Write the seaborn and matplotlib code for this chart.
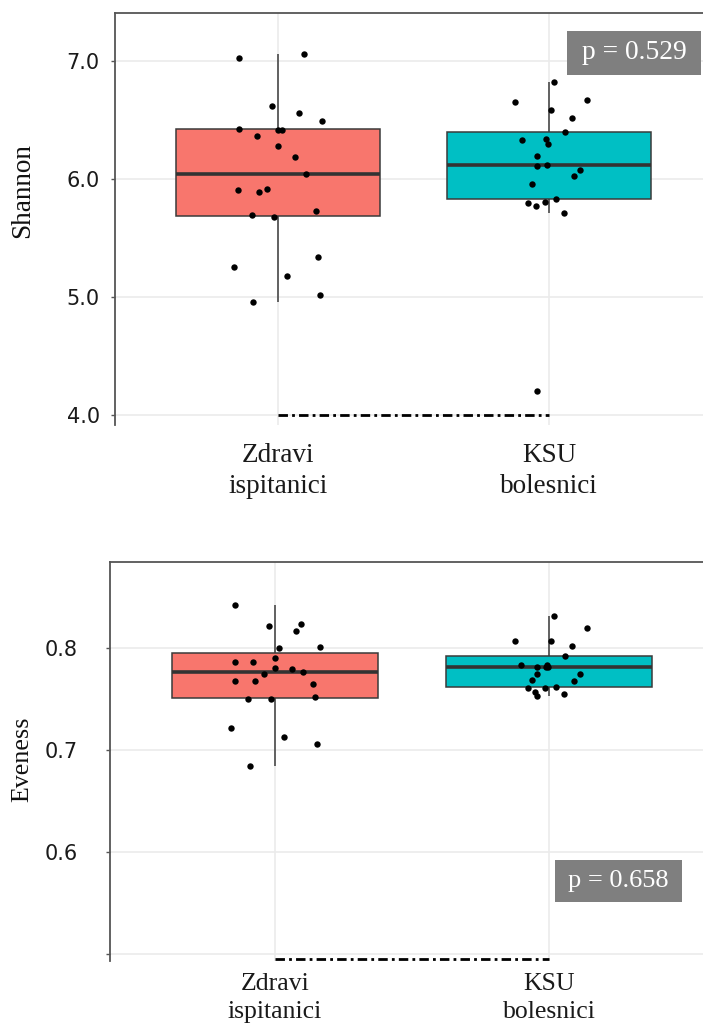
import numpy as np
import pandas as pd
import matplotlib
matplotlib.use("Agg")
import matplotlib.pyplot as plt
import seaborn as sns
from matplotlib.patches import Rectangle

# ---------------- data ----------------
groups = ["Zdravi\nispitanici", "KSU\nbolesnici"]
palette = ["#F8766D", "#00BFC4"]

shannon_zdravi = [7.023, 7.057, 6.619, 6.562, 6.492, 6.415, 6.418, 6.425, 6.364,
                  6.277, 6.184, 6.040, 5.915, 5.907, 5.892, 5.731, 5.695, 5.681,
                  5.339, 5.252, 5.178, 5.014, 4.960]
shannon_ksu = [6.819, 6.669, 6.650, 6.588, 6.514, 6.396, 6.339, 6.333, 6.299,
               6.192, 6.116, 6.110, 6.079, 6.028, 5.958, 5.831, 5.797, 5.803,
               5.769, 5.712, 4.201]
evenness_zdravi = [0.8429, 0.8236, 0.8222, 0.8167, 0.8013, 0.8003, 0.7905, 0.7868,
                   0.7865, 0.7809, 0.7796, 0.7767, 0.7744, 0.7681, 0.7681, 0.7652,
                   0.7499, 0.7499, 0.7518, 0.7220, 0.7125, 0.7062, 0.6845]
evenness_ksu = [0.8321, 0.8197, 0.8075, 0.8075, 0.8026, 0.7927, 0.7819, 0.7833,
                0.7816, 0.7813, 0.7833, 0.7750, 0.7747, 0.7678, 0.7685, 0.7622,
                0.7613, 0.7608, 0.7567, 0.7554, 0.7531]

shannon_ticks = [4.0, 5.0, 6.0, 7.0]
shannon_ticklabels = ["4.0", "5.0", "6.0", "7.0"]
evenness_ticks = [0.5, 0.6, 0.7, 0.8]
evenness_ticklabels = ["", "0.6", "0.7", "0.8"]

shannon_label = "Shannon"
evenness_label = "Eveness"
p_shannon = "p = 0.529"
p_evenness = "p = 0.658"
shannon_base = 4.0
evenness_base = 0.495

# ---------------- style ----------------
sns.set_theme(style="white")
plt.rcParams["font.family"] = ["DejaVu Sans"]
SERIF = "Liberation Serif"
EDGE = "#3a3a3a"
GRID = "#EBEBEB"

fig = plt.figure(figsize=(7.03, 10.29), dpi=100)
W, H = 703, 1029


def add_axes_px(left, top, right, bottom):
    return fig.add_axes([left / W, 1 - bottom / H, (right - left) / W, (bottom - top) / H])


def panel(ax, a, b, ticks, ticklabels, ylabel, base, ptext, xlim, ylim,
          ylabel_xy, ypad, xfont, xpad, ylabel_size, pbox, pfont):
    df = pd.DataFrame({
        "group": [groups[0]] * len(a) + [groups[1]] * len(b),
        "value": list(a) + list(b),
    })
    sns.boxplot(data=df, x="group", y="value", hue="group", order=groups,
                hue_order=groups, palette=palette, saturation=1, width=0.75,
                linecolor=EDGE, linewidth=1.1, showcaps=False, showfliers=False,
                medianprops={"linewidth": 2.6, "color": "#333333"},
                legend=False, ax=ax)
    np.random.seed(7)
    sns.stripplot(data=df, x="group", y="value", order=groups, color="black",
                  size=4.6, jitter=0.17, ax=ax, zorder=4)

    ax.set_xlim(*xlim)
    ax.set_ylim(*ylim)
    ax.set_yticks(ticks)
    ax.set_yticklabels(ticklabels)
    ax.set_xticks(range(len(groups)))
    ax.set_xticklabels(groups, fontfamily=SERIF, fontsize=xfont, linespacing=1.3)
    ax.set_xlabel("")
    ax.set_ylabel(ylabel, fontfamily=SERIF, fontsize=ylabel_size, color="#111111")
    ax.yaxis.set_label_coords(*ylabel_xy)

    ax.grid(True, color=GRID, linewidth=1.2)
    ax.set_axisbelow(True)

    ax.tick_params(axis="y", labelsize=15, length=3, width=1, pad=ypad,
                   color="#555555", labelcolor="#1a1a1a", left=True)
    ax.tick_params(axis="x", length=0, pad=xpad, labelcolor="#1a1a1a")

    for s in ["right", "bottom"]:
        ax.spines[s].set_visible(False)
    for s in ["left", "top"]:
        ax.spines[s].set_visible(True)
        ax.spines[s].set_color("#555555")
        ax.spines[s].set_linewidth(1.3)

    # dash-dot baseline between the two groups
    ax.plot([0, len(groups) - 1], [base, base], color="black", lw=2.0,
            linestyle=(0, (3.4, 1.5, 1.0, 1.5)), dash_capstyle="butt", zorder=5)

    # p-value box
    cx, cy, bw, bh = pbox
    ax.add_patch(Rectangle((cx - bw / 2, cy - bh / 2), bw, bh, transform=ax.transAxes,
                           facecolor="#7F7F7F", edgecolor="none", zorder=6))
    ax.text(cx, cy, ptext, transform=ax.transAxes, ha="center", va="center",
            fontfamily=SERIF, fontsize=pfont, color="white", zorder=7)


# top panel: axes px left 115, top 13, bottom 425
ax1 = add_axes_px(115, 13, 703, 425)
panel(ax1, shannon_zdravi, shannon_ksu, shannon_ticks, shannon_ticklabels,
      shannon_label, shannon_base, p_shannon,
      xlim=(-0.6015, 1.568), ylim=(3.915, 7.407),
      ylabel_xy=(-0.136, 0.570), ypad=8, xfont=19.5, xpad=13,
      ylabel_size=19.5, pbox=(0.8827, 0.903, 0.228, 0.1068), pfont=19.8)

# bottom panel: axes px left 110, top 562, bottom 961
ax2 = add_axes_px(110, 562, 703, 961)
panel(ax2, evenness_zdravi, evenness_ksu, evenness_ticks, evenness_ticklabels,
      evenness_label, evenness_base, p_evenness,
      xlim=(-0.602, 1.562), ylim=(0.4927, 0.8849),
      ylabel_xy=(-0.130, 0.506), ypad=20, xfont=18.5, xpad=9,
      ylabel_size=18.7, pbox=(0.8575, 0.2005, 0.2142, 0.1053), pfont=19.0)

fig.savefig("out.png", dpi=100, facecolor="white")
